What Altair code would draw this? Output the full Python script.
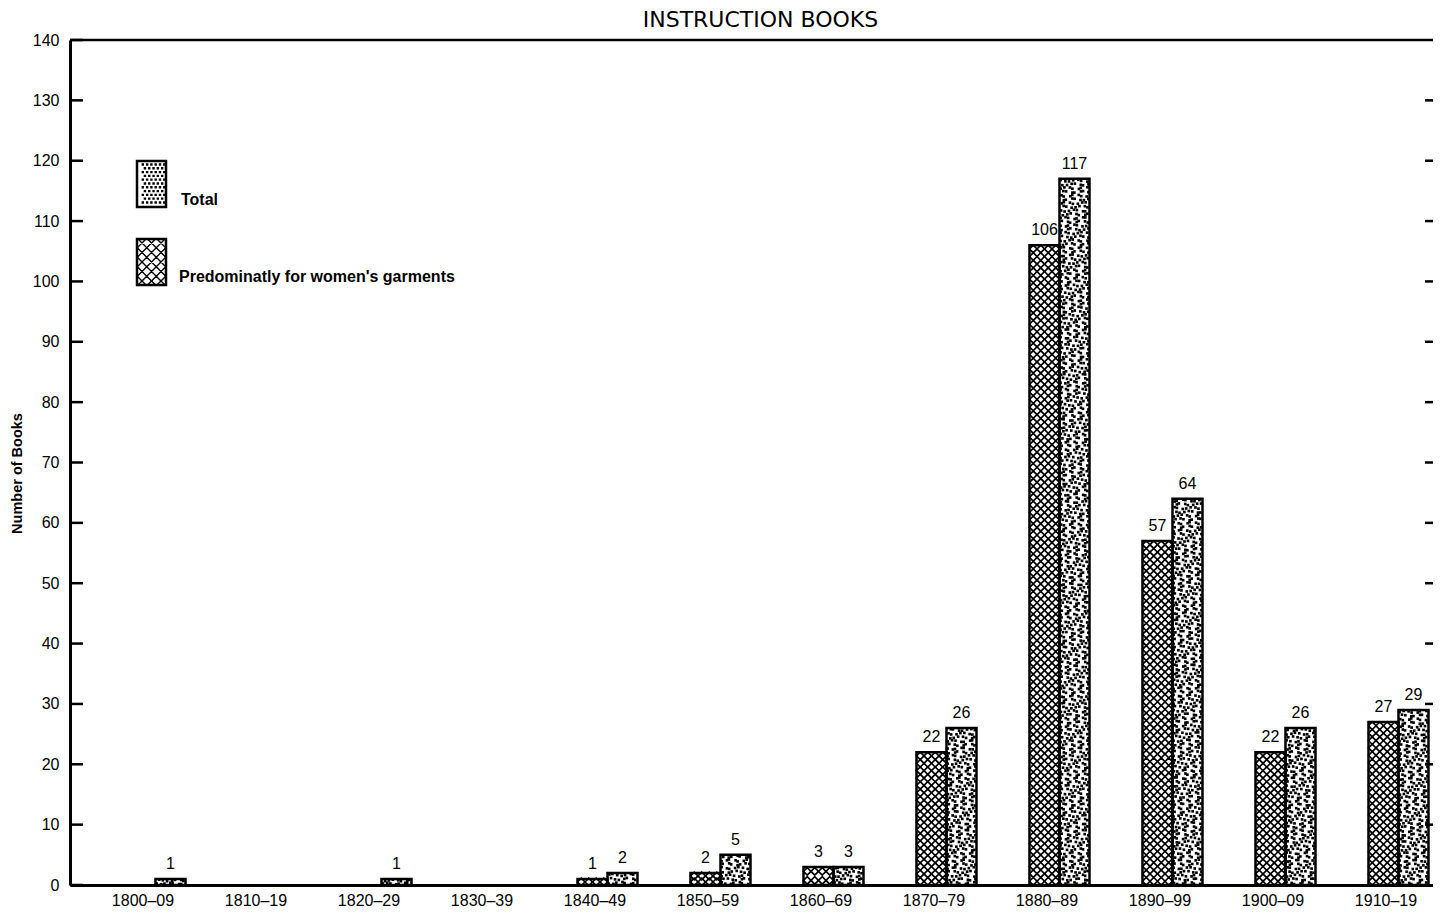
import altair as alt
import pandas as pd

# ---------------- data ----------------
categories = ["1800–09", "1810–19", "1820–29", "1830–39", "1840–49", "1850–59",
              "1860–69", "1870–79", "1880–89", "1890–99", "1900–09", "1910–19"]
women = [0, 0, 0, 0, 1, 2, 3, 22, 106, 57, 22, 27]
total = [1, 0, 1, 0, 2, 5, 3, 26, 117, 64, 26, 29]
y_ticks = list(range(0, 141, 10))
legend_labels = ["Total", "Predominatly for women's garments"]
chart_title = "INSTRUCTION BOOKS"
y_title = "Number of Books"

rows = []
for i, c in enumerate(categories):
    rows.append({"period": c, "idx": i, "series": "women", "value": women[i]})
    rows.append({"period": c, "idx": i, "series": "total", "value": total[i]})
df = pd.DataFrame(rows)

# ---------------- layout / style ----------------
FONT = "Liberation Sans"
W, H = 1363, 845
SHIFT = 0.115    # group centre offset from label (in category units)
BW = 0.2655      # bar width (category units)

xscale = alt.Scale(domain=[-0.6416, 11.4204], nice=False, zero=False)
yscale = alt.Scale(domain=[0, 140], nice=False, zero=True)

label_expr = "[" + ",".join("'" + c + "'" for c in categories) + "][datum.value]"
xaxis = alt.Axis(values=list(range(len(categories))), labelExpr=label_expr,
                 ticks=False, tickSize=0, grid=False, domainWidth=3,
                 domainColor="black", labelFontSize=16, labelFont=FONT,
                 labelColor="black", labelPadding=7, title=None,
                 labelFlush=False, labelOverlap=False)
yaxis = alt.Axis(values=y_ticks, ticks=False, tickSize=0, grid=False,
                 domainWidth=3, domainColor="black", labelFontSize=16,
                 labelFont=FONT, labelColor="black", labelPadding=11,
                 labelFlush=False, labelOverlap=False,
                 title=y_title, titleFontSize=14.5, titleFontWeight="bold",
                 titleFont=FONT, titleColor="black", titlePadding=8,
                 titleY=433)


def X(field):
    return alt.X(field, scale=xscale, axis=xaxis)


def Y(field):
    return alt.Y(field, scale=yscale, axis=yaxis)


base = alt.Chart(df).transform_filter("datum.value > 0").transform_calculate(
    xl=f"datum.idx + {SHIFT} + (datum.series == 'total' ? 0 : -{BW})",
    zero="0",
).transform_calculate(
    xr=f"datum.xl + {BW}",
    xc=f"datum.xl + {BW / 2}",
)

bars_fill = base.mark_rect(fill="white").encode(
    x=X("xl:Q"), x2="xr:Q", y=Y("value:Q"), y2="zero:Q",
)

# cross-hatch texture (women's garments)
hatch = base.transform_filter("datum.series == 'women'").transform_calculate(
    nrow="max(1, round(datum.value / 1.24))"
).transform_calculate(
    rowseq="sequence(0, datum.nrow)", colseq="sequence(0, 4)"
).transform_flatten(["rowseq"], as_=["row"]).transform_flatten(
    ["colseq"], as_=["col"]
).transform_calculate(
    px=f"datum.xl + (datum.col + 0.5) * {BW} / 4",
    py="(datum.row + 0.5) * datum.value / datum.nrow",
).mark_point(shape="diamond", size=56, filled=False, color="black",
             strokeWidth=1.7, opacity=1).encode(
    x=X("px:Q"), y=Y("py:Q"),
)

# stipple texture (total) - slightly irregular dot screen
stipple = base.transform_filter("datum.series == 'total'").transform_calculate(
    nrow="max(1, round(datum.value / 0.62))"
).transform_calculate(
    rowseq="sequence(0, datum.nrow)", colseq="sequence(0, 7)"
).transform_flatten(["rowseq"], as_=["row"]).transform_flatten(
    ["colseq"], as_=["col"]
).transform_calculate(
    jx="sin(datum.row * 12.9898 + datum.col * 78.233 + datum.idx * 3.1) * 0.28",
    jy="sin(datum.row * 39.3468 + datum.col * 11.135 + datum.idx * 7.7) * 0.25",
).transform_calculate(
    px=f"datum.xl + min(6.75, max(0.25, datum.col + 0.25 + 0.5 * (datum.row % 2) + datum.jx)) * {BW} / 7",
    py="max(0.25, min(datum.nrow - 0.25, datum.row + 0.5 + datum.jy)) * datum.value / datum.nrow",
).mark_point(shape="square", size=7, filled=True, color="black",
             strokeWidth=0, opacity=1).encode(
    x=X("px:Q"), y=Y("py:Q"),
)

bars_outline = base.mark_rect(filled=False, color="black", strokeWidth=2.5).encode(
    x=X("xl:Q"), x2="xr:Q", y=Y("value:Q"), y2="zero:Q",
)

value_labels = base.mark_text(fontSize=16, font=FONT, color="black",
                              baseline="alphabetic", dy=-10).encode(
    x=X("xc:Q"), y=Y("value:Q"), text="value:Q",
)

tick_df = pd.DataFrame({"t": y_ticks})
left_ticks = alt.Chart(tick_df).mark_rule(color="black", strokeWidth=2.5).encode(
    x=alt.value(0), x2=alt.value(13), y=Y("t:Q"),
)
right_ticks = alt.Chart(tick_df).transform_filter(
    "datum.t > 0 && datum.t < 140"
).mark_rule(color="black", strokeWidth=2.5).encode(
    x=alt.value(W - 8), x2=alt.value(W), y=Y("t:Q"),
)
top_line = alt.Chart(pd.DataFrame({"a": [0]})).mark_rule(
    color="black", strokeWidth=2.5
).encode(x=alt.value(0), x2=alt.value(W), y=alt.value(0))

# ---------------- legend (custom patterned boxes) ----------------
A = 29 / 46.0  # half width of legend box in symbol units (half height = 1)


def fmt(v):
    return f"{v:.3f}"


frame_path = f"M{fmt(-A)},-1L{fmt(A)},-1L{fmt(A)},1L{fmt(-A)},1Z"

hp = []
w = 9.5 / 23.0
k = -6
while k <= 6:
    c = k * w
    x1, x2 = max(-A, c - 1), min(A, c + 1)
    if x2 > x1:
        hp.append(f"M{fmt(x1)},{fmt(c - x1)}L{fmt(x2)},{fmt(c - x2)}")
        hp.append(f"M{fmt(x1)},{fmt(x1 - c)}L{fmt(x2)},{fmt(x2 - c)}")
    k += 1
hatch_path = "".join(hp)

sp = []
d = 2.4 / 23.0
sx, sy = 4.3 / 23.0, 3.8 / 23.0
r = 0
yv = -1 + sy * 0.6
while yv < 1 - d:
    xv = -A + (0.2 if r % 2 == 0 else 0.2 + sx / 2)
    while xv < A - d:
        sp.append(f"M{fmt(xv)},{fmt(yv)}L{fmt(xv + d)},{fmt(yv)}L{fmt(xv + d)},{fmt(yv + d)}L{fmt(xv)},{fmt(yv + d)}Z")
        xv += sx
    yv += sy
    r += 1
stipple_path = "".join(sp)

SYM = 46 * 46


def legend_entry(label, cx, cy, tx, ty, pattern_path, pattern_filled):
    src = alt.Chart(pd.DataFrame({"label": [label]}))
    pat = src.mark_point(shape=pattern_path, size=SYM, filled=pattern_filled,
                         color="black", opacity=1,
                         strokeWidth=0 if pattern_filled else 1.4).encode(
        x=alt.value(cx), y=alt.value(cy))
    frame = src.mark_point(shape=frame_path, size=SYM, filled=False,
                           color="black", opacity=1, strokeWidth=2.5).encode(
        x=alt.value(cx), y=alt.value(cy))
    txt = src.mark_text(align="left", baseline="alphabetic", fontSize=16,
                        fontWeight="bold", font=FONT, color="black").encode(
        x=alt.value(tx), y=alt.value(ty), text="label:N")
    return [pat, frame, txt]


legend_layers = (legend_entry(legend_labels[0], 81.5, 144, 111, 165, stipple_path, True)
                 + legend_entry(legend_labels[1], 81.5, 222, 109, 242, hatch_path, False))

chart = alt.layer(
    bars_fill, hatch, stipple, bars_outline, value_labels,
    left_ticks, right_ticks, top_line, *legend_layers
).properties(
    width=W, height=H,
    title=alt.TitleParams(text=chart_title, fontSize=22, fontWeight="normal",
                          font="DejaVu Sans", color="black", anchor="middle",
                          dx=9, offset=0),
    autosize=alt.AutoSizeParams(type="none"),
    padding={"left": 62, "top": 32, "right": 0, "bottom": 22},
).configure_view(strokeWidth=0).configure(background="white")

chart.save("out.html", embed_options={"renderer": "svg", "actions": False})
